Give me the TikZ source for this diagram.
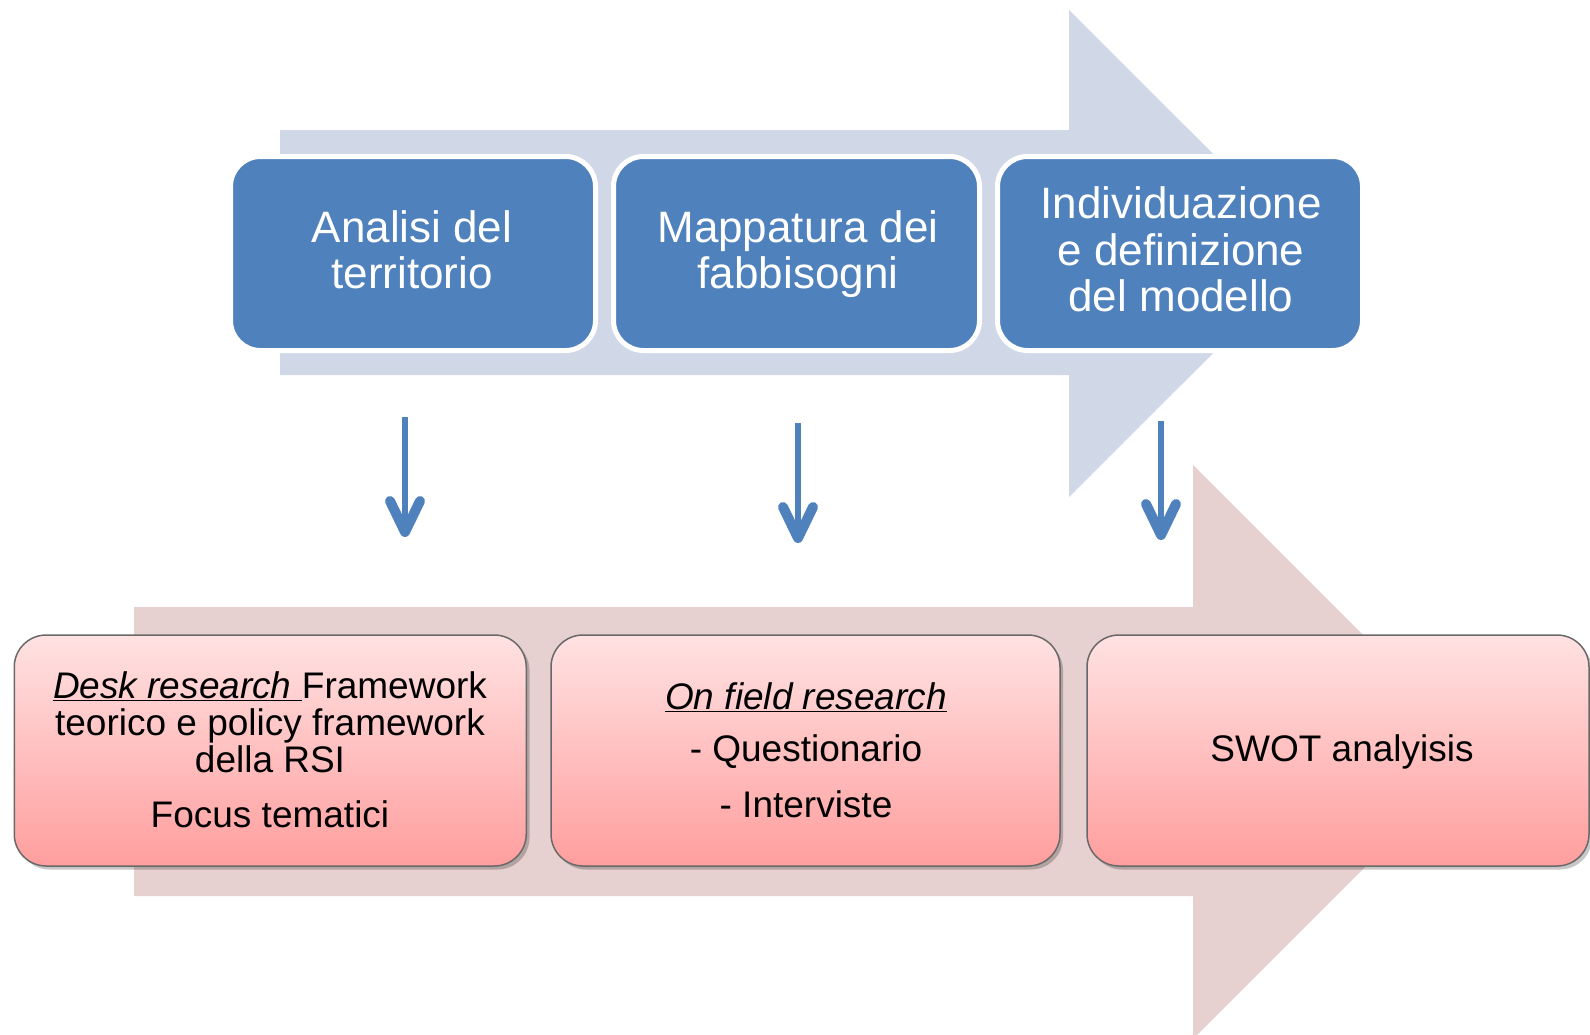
\documentclass[tikz,border=0pt]{standalone}
\usepackage{fontspec}
\setmainfont{Liberation Sans}
\usetikzlibrary{arrows.meta}
\definecolor{boxblue}{RGB}{79,129,189}
\definecolor{arrowblue}{RGB}{208,216,232}
\definecolor{arrowpink}{RGB}{230,208,208}
\definecolor{pinktop}{RGB}{255,226,226}
\definecolor{pinkbot}{RGB}{255,158,158}
\definecolor{pinkline}{RGB}{105,105,105}
\begin{document}
\begin{tikzpicture}[x=1pt,y=-1pt,
  bigarrow/.style={draw=none},
  topbox/.style={draw=white, line width=5pt, fill=boxblue, rounded corners=30pt, inner sep=0pt, minimum height=194pt},
  botbox/.style={draw=pinkline, line width=1.5pt, top color=pinktop, bottom color=pinkbot, rounded corners=32pt, inner sep=0pt, minimum height=231pt},
  shadowbox/.style={fill=black, opacity=0.22, draw=none, rounded corners=32pt, inner sep=0pt, minimum height=231pt},
  toptext/.style={anchor=base, text=white, font=\fontsize{44}{46}\selectfont, inner sep=0pt},
  bottext/.style={anchor=base, text=black, font=\fontsize{37}{37}\selectfont, inner sep=0pt},
  downarrow/.style={draw=boxblue, line width=6.5pt, -{Straight Barb[length=31pt,width=30pt,line width=10pt,round]}}
]
\useasboundingbox (0,0) rectangle (1590,1034);
\clip (0,0) rectangle (1590,1034);

% big background arrows
\fill[arrowblue, bigarrow] (280,130) -- (1069,130) -- (1069,10) -- (1313,253.5) -- (1069,497) -- (1069,375) -- (280,375) -- cycle;
\fill[arrowpink, bigarrow] (134,607) -- (1193,607) -- (1193,465) -- (1480,752) -- (1193,1039) -- (1193,896) -- (134,896) -- cycle;

% top boxes
\node[topbox, minimum width=365pt] (t1) at (413,253.5) {};
\node[topbox, minimum width=366pt] (t2) at (796.5,253.5) {};
\node[topbox, minimum width=365pt] (t3) at (1180,253.5) {};

\node[toptext] (t1a) at (412,242) {Analisi del};
\node[toptext] (t1b) at (412,288) {territorio};
\node[toptext] (t2a) at (798,242) {Mappatura dei};
\node[toptext] (t2b) at (798,288) {fabbisogni};
\node[toptext] (t3a) at (1181,218) {Individuazione};
\node[toptext] (t3b) at (1181,265) {e definizione};
\node[toptext] (t3c) at (1181,311) {del modello};

% bottom boxes (shadows first)
\node[shadowbox, minimum width=512pt] (s1) at (273.5,754) {};
\node[shadowbox, minimum width=509pt] (s2) at (808.5,754) {};
\node[shadowbox, minimum width=502pt] (s3) at (1341,754) {};
\node[botbox, minimum width=512pt] (b1) at (270.25,750.5) {};
\node[botbox, minimum width=509pt] (b2) at (805.5,750.5) {};
\node[botbox, minimum width=502pt] (b3) at (1338,750.5) {};

\node[bottext] (b1a) at (270,698) {\underline{\textit{Desk research }}Framework};
\node[bottext] (b1b) at (270,735) {teorico e policy framework};
\node[bottext] (b1c) at (270,772) {della RSI};
\node[bottext] (b1d) at (270,827) {Focus tematici};
\node[bottext] (b2a) at (806,709) {\underline{\textit{On field research}}};
\node[bottext] (b2b) at (806,761) {- Questionario};
\node[bottext] (b2c) at (806,817) {- Interviste};
\node[bottext] (b3a) at (1342,761) {SWOT analyisis};

% vertical arrows
\coordinate (a1s) at (405,417);
\coordinate (a1e) at (405,537);
\coordinate (a2s) at (798,423);
\coordinate (a2e) at (798,543);
\coordinate (a3s) at (1161,421);
\coordinate (a3e) at (1161,540);
\draw[downarrow] (a1s) -- (a1e);
\draw[downarrow] (a2s) -- (a2e);
\draw[downarrow] (a3s) -- (a3e);
\end{tikzpicture}
\end{document}
